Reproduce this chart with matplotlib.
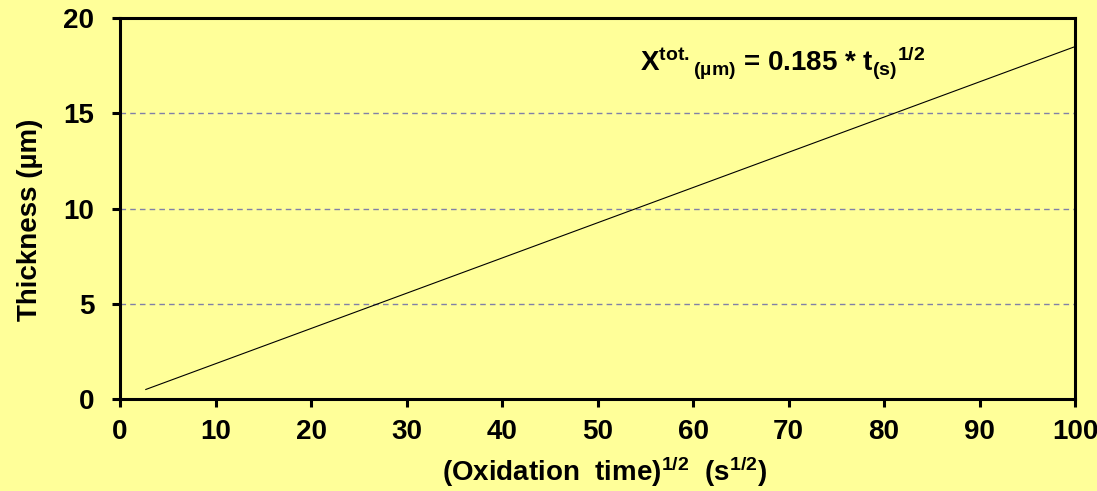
import numpy as np
import matplotlib
matplotlib.use("Agg")
import matplotlib.pyplot as plt

# ---------------- data ----------------
sqrt_time = [2.7, 100.0]          # (Oxidation time)^1/2, s^1/2
thickness = [0.5, 18.5]           # X_tot = 0.185 * t^1/2, µm
x_ticks = [0, 10, 20, 30, 40, 50, 60, 70, 80, 90, 100]
y_ticks = [0, 5, 10, 15, 20]
grid_levels = [5, 10, 15]
# --------------------------------------

BG = "#FFFF99"

plt.rcParams["font.family"] = ["Liberation Sans", "DejaVu Sans"]
plt.rcParams["font.weight"] = "bold"
plt.rcParams["mathtext.fontset"] = "custom"
plt.rcParams["mathtext.rm"] = "Liberation Sans:bold"
plt.rcParams["mathtext.it"] = "Liberation Sans:bold"
plt.rcParams["mathtext.bf"] = "Liberation Sans:bold"
plt.rcParams["mathtext.default"] = "bf"

fig = plt.figure(figsize=(10.97, 4.91), dpi=100, facecolor=BG)
ax = fig.add_axes([0.1094, 0.1874, 0.8706, 0.7759], facecolor=BG)

for lvl in grid_levels:
    ax.axhline(lvl, color="#8080a8", linestyle=(0, (4, 3)), linewidth=1.0, zorder=1)

ax.plot(sqrt_time, thickness, color="black", linewidth=0.8, zorder=2)

ax.set_xlim(0, 100)
ax.set_ylim(0, 20)
ax.set_xticks(x_ticks)
ax.set_yticks(y_ticks)
ax.tick_params(direction="out", length=5.5, width=2.2, labelsize=20)
ax.tick_params(axis="x", pad=9)
ax.tick_params(axis="y", pad=13)
for s in ax.spines.values():
    s.set_linewidth(2.2)

ax.set_xlabel(r"(Oxidation  time)$^{1/2}$  (s$^{1/2}$)", fontsize=20, fontweight="bold")
ax.xaxis.set_label_coords(0.507, -0.145)
ax.set_ylabel("Thickness (µm)", fontsize=20, fontweight="bold")
ax.yaxis.set_label_coords(-0.081, 0.47)

ax.text(54.45, 17.27, r"X$^{tot.}$$_{(µm)}$ = 0.185 * t$_{(s)}$$^{1/2}$",
        fontsize=20, fontweight="bold", ha="left", va="baseline")

fig.savefig("out.png", dpi=100, facecolor=BG)
plt.close()
